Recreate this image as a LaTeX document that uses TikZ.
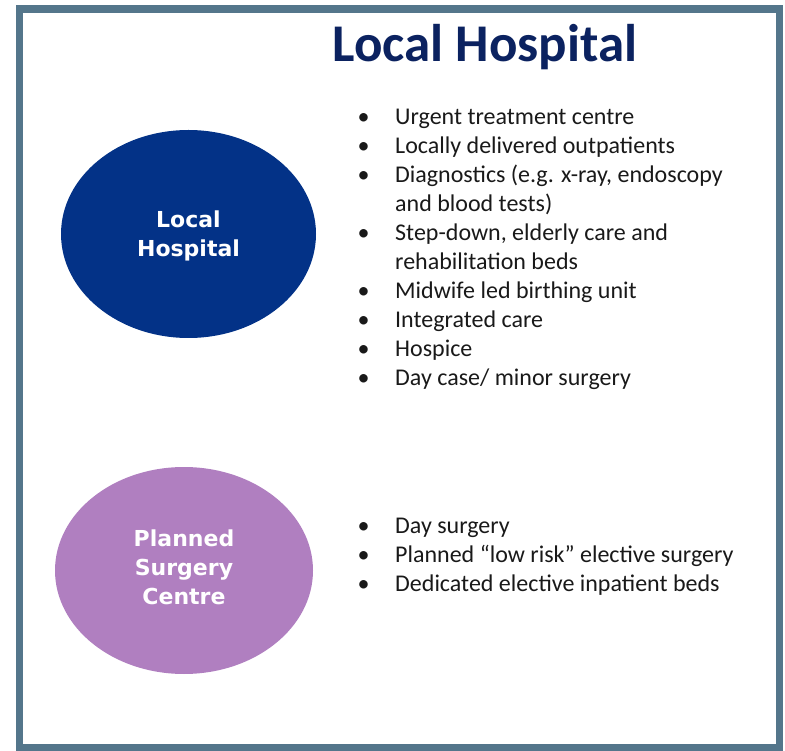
\documentclass[tikz,border=0pt]{standalone}
\usepackage{fontspec}
\setmainfont{Carlito}
\newfontfamily\ovalfont{DejaVu Sans}
\usetikzlibrary{shapes.geometric}
\definecolor{framegrey}{HTML}{54768B}
\definecolor{titlenavy}{HTML}{0B2260}
\definecolor{hospnavy}{HTML}{033287}
\definecolor{surgpurple}{HTML}{B07FC0}

\begin{document}
\begin{tikzpicture}[x=1pt,y=-1pt,
    oval/.style={ellipse, inner sep=0pt},
    ovaltext/.style={text=white, align=center, inner sep=0pt,
      font=\ovalfont\bfseries\fontsize{22}{29}\selectfont},
    bullets/.style={anchor=base west, inner sep=0pt, text=black!90,
      font=\fontsize{24}{29}\selectfont}]
    \useasboundingbox (0,0) rectangle (785,751);
    \draw[framegrey, line width=7.5pt] (19.5,9) rectangle (779.5,747.5);

    \node[anchor=base, text=titlenavy, font=\bfseries\fontsize{53}{60}\selectfont] (title) at (485,62) {Local Hospital};

    \node[oval, fill=hospnavy, minimum width=255pt, minimum height=208pt] (localoval) at (188.5,234) {};
    \node[ovaltext] (localtext) at (188.5,236) {Local\\Hospital};
    \node[oval, fill=surgpurple, minimum width=258pt, minimum height=207pt] (surgeryoval) at (184,570.5) {};
    \node[ovaltext] (surgerytext) at (184,567.5) {Planned\\Surgery\\Centre};

    \node[bullets] (locallist) at (357.5,125) {%
      \begin{tabular}[t]{@{}p{37.5pt}@{}l@{}}
        • & Urgent treatment centre\\
        • & Locally delivered outpatients\\
        • & Diagnostics (e.g. x-ray, endoscopy\\
          & and blood tests)\\
        • & Step-down, elderly care and\\
          & rehabilitation beds\\
        • & Midwife led birthing unit\\
        • & Integrated care\\
        • & Hospice\\
        • & Day case/ minor surgery
      \end{tabular}};
    \node[bullets] (surgerylist) at (357.5,533) {%
      \begin{tabular}[t]{@{}p{37.5pt}@{}l@{}}
        • & Day surgery\\
        • & Planned “low risk” elective surgery\\
        • & Dedicated elective inpatient beds
      \end{tabular}};
\end{tikzpicture}
\end{document}
